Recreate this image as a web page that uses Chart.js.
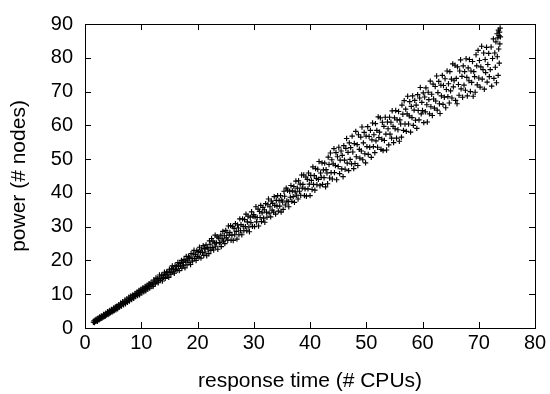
<!DOCTYPE html>
<html>
<head>
<meta charset="utf-8">
<script src="https://cdn.jsdelivr.net/npm/chart.js@4.4.0/dist/chart.umd.min.js"></script>
<style>
html,body{margin:0;padding:0;background:#fff;}
#wrap{width:550px;height:394px;}
</style>
</head>
<body>
<div id="wrap"><canvas id="c" width="550" height="394"></canvas></div>
<script>
// ---- data (response time, power) ----
const xA = [1.5,1.6,1.7,1.8,1.9,2.0,2.1,2.2,2.3,2.4,2.5,2.6,2.7,2.8,2.9,3.0,3.1,3.2,3.3,3.4,3.5,3.6,3.7,3.8,3.9,4.0,4.1,4.2,4.3,4.4,4.5,4.6,4.7,4.8,4.9,5.0,5.1,5.2,5.3,5.4,5.5,5.6,5.7,5.8,5.9];
const yA = [1.7,2.1,1.6,2.4,2.0,2.6,2.2,2.0,2.9,2.5,2.4,3.3,2.7,3.0,3.6,2.9,3.5,3.2,4.0,3.4,3.9,3.5,4.4,3.8,4.2,4.8,4.0,4.6,4.3,5.2,4.5,4.9,5.5,4.7,5.3,5.0,5.9,5.2,5.7,6.2,5.4,6.0,6.5,5.7,6.3];
const xB = [6.0,6.1,6.25,6.35,6.5,6.6,6.7,6.85,6.95,7.1,7.2,7.3,7.45,7.55,7.7,7.8,7.9,8.05,8.15,8.3,8.4,8.5,8.65,8.75,8.9,9.0,9.1,9.25,9.35,9.5,9.6,9.7,9.85,9.95,10.1,10.2,10.3,10.45,10.55,10.7,10.8,10.9,11.05,11.15,11.3,11.4,11.5,11.65,11.75,11.9];
const yB = [6.9,6.1,6.6,7.4,6.5,7.2,7.8,6.9,7.5,8.3,7.2,7.9,8.6,7.6,8.2,9.1,8.0,8.7,9.5,8.4,9.1,9.8,8.8,9.6,10.2,9.3,9.9,10.7,9.6,10.4,11.1,9.8,10.8,11.5,10.4,11.2,11.9,10.7,11.6,12.3,11.0,12.0,12.7,11.5,12.4,13.1,11.8,12.8,13.5,12.3];
const xC = [12.00,12.14,12.23,12.39,12.50,12.61,12.77,12.86,13.02,13.13,13.24,13.38,13.49,13.63,13.75,13.88,13.97,14.12,14.26,14.35,14.51,14.62,14.74,14.89,15.01,15.12,15.27,15.36,15.52,15.64,15.73,15.88,16.01,16.13,16.24,16.37,16.51,16.62,16.76,16.87,16.99,17.14,17.23,17.38,17.49,17.61,17.77,17.88];
const yC = [13.0,12.4,14.2,13.9,13.1,14.8,13.6,14.6,13.4,14.5,15.7,14.1,14.7,15.7,13.9,15.6,15.0,16.5,14.7,15.8,16.6,15.4,16.5,15.0,17.4,16.4,15.9,17.5,18.4,16.6,17.5,16.2,18.5,17.3,18.3,17.1,19.4,18.2,17.0,19.1,18.3,20.0,17.7,19.4,18.6,20.3,17.8,19.8];
const xD = [18.00,18.14,18.23,18.39,18.50,18.61,18.77,18.86,19.02,19.13,19.24,19.38,19.49,19.63,19.75,19.88,19.97,20.12,20.26,20.35,20.51,20.62,20.74,20.89,21.01,21.12,21.27,21.36,21.52,21.64,21.73,21.88,22.01,22.13,22.24,22.37,22.51,22.62,22.76,22.87,22.99,23.14,23.23,23.38,23.49,23.61,23.77,23.88];
const yD = [21.2,18.7,20.1,21.1,19.4,20.8,18.8,22.0,20.6,19.8,21.9,23.0,20.6,21.8,20.0,22.9,21.2,22.6,21.0,23.9,22.4,20.7,23.4,22.3,24.4,21.5,23.5,22.5,24.6,21.4,23.8,23.4,22.0,25.8,24.8,23.0,26.5,23.8,25.7,23.1,25.2,27.5,24.2,25.2,27.0,23.3,26.6,25.3];
const xE = [24.00,24.14,24.23,24.39,24.50,24.61,24.77,24.86,25.02,25.13,25.24,25.38,25.49,25.63,25.75,25.88,25.97,26.12,26.26,26.35,26.51,26.62,26.74,26.89,27.01,27.12,27.27,27.36,27.52,27.64,27.73,27.88,28.01,28.13,28.24,28.37,28.51,28.62,28.76,28.87,28.99,29.14,29.23,29.38,29.49,29.61,29.77,29.88];
const yE = [25.2,27.5,24.1,26.4,28.6,25.7,27.3,25.0,28.9,26.7,28.2,26.0,30.2,27.5,28.3,30.3,26.0,27.5,30.0,25.9,29.5,27.6,30.9,28.6,26.3,30.5,29.6,27.6,32.3,28.8,30.6,27.6,32.3,30.1,28.8,32.1,30.0,33.7,28.8,31.4,33.1,29.9,28.5,32.8,31.2,34.4,30.1,33.1];
const xF = [30.00,30.14,30.23,30.39,30.50,30.61,30.77,30.86,31.02,31.13,31.24,31.38,31.49,31.63,31.75,31.88,31.97,32.12,32.26,32.35,32.51,32.62,32.74,32.89,33.01,33.12,33.27,33.36,33.52,33.64,33.73,33.88,34.01,34.13,34.24,34.37,34.51,34.62,34.76,34.87,34.99,35.14,35.23,35.38,35.49,35.61,35.77,35.88];
const yF = [33.6,30.0,32.9,35.9,31.4,32.7,35.2,30.2,34.5,32.7,36.3,31.5,34.1,35.7,32.5,35.0,31.3,36.8,34.3,32.8,36.5,38.2,34.0,35.9,32.9,37.6,34.9,36.9,34.3,38.9,36.3,33.7,37.8,36.1,39.2,34.6,37.7,36.1,39.2,34.3,37.9,37.3,35.1,40.5,39.0,36.4,41.4,37.6];
const xG = [36.00,36.14,36.23,36.39,36.50,36.61,36.77,36.86,37.02,37.13,37.24,37.38,37.49,37.63,37.75,37.88,37.97,38.12,38.26,38.35,38.51,38.62,38.74,38.89,39.01,39.12,39.27,39.36,39.52,39.64,39.73,39.88,40.01,40.13,40.24,40.37,40.51,40.62,40.76,40.87,40.99,41.14,41.23,41.38,41.49,41.61,41.77,41.88];
const yG = [40.8,37.4,35.9,40.5,38.7,42.2,37.5,40.6,38.9,41.9,37.2,40.3,43.5,39.3,41.4,38.2,43.6,40.5,42.6,39.3,45.3,41.4,42.5,45.3,39.2,41.2,44.7,39.0,44.0,41.2,45.9,42.6,39.2,45.2,43.7,41.0,47.7,42.5,45.1,40.8,47.2,44.3,42.4,47.0,44.0,49.3,42.1,45.9];
const xH = [42.00,42.14,42.23,42.39,42.50,42.61,42.77,42.86,43.02,43.13,43.24,43.38,43.49,43.63,43.75,43.88,43.97,44.12,44.26,44.35,44.51,44.62,44.74,44.89,45.01,45.12,45.27,45.36,45.52,45.64,45.73,45.88,46.01,46.13,46.24,46.37,46.51,46.62,46.76,46.87,46.99,47.14,47.23,47.38,47.49,47.61,47.77,47.88];
const yH = [44.6,48.9,42.5,46.8,44.5,48.8,41.8,46.9,45.9,42.7,50.6,48.4,44.4,51.8,46.0,49.8,44.1,48.6,53.1,46.0,48.1,51.9,43.9,50.7,47.8,53.5,45.7,49.7,52.4,47.1,51.1,44.8,54.0,49.7,47.0,53.2,56.1,48.8,52.0,46.6,54.8,49.9,53.4,48.6,56.8,52.1,47.2,54.6];
const xI = [48.00,48.14,48.23,48.39,48.50,48.61,48.77,48.86,49.02,49.13,49.24,49.38,49.49,49.63,49.75,49.88,49.97,50.12,50.26,50.35,50.51,50.62,50.74,50.89,51.01,51.12,51.27,51.36,51.52,51.64,51.73,51.88,52.01,52.13,52.24,52.37,52.51,52.62,52.76,52.87,52.99,53.14,53.23,53.38,53.49,53.61,53.77,53.88];
const yI = [48.7,58.2,50.7,54.3,48.1,57.2,52.9,50.3,56.5,52.4,59.5,49.8,54.8,57.9,51.6,48.9,56.8,53.7,59.6,51.4,56.7,53.5,58.5,50.5,55.7,60.7,53.7,57.2,51.9,60.5,55.4,58.5,53.5,62.5,56.4,58.0,62.2,52.9,55.9,60.9,52.5,59.7,55.5,62.4,57.4,52.7,61.0,59.0];
const xJ = [54.00,54.14,54.23,54.39,54.50,54.61,54.77,54.86,55.02,55.13,55.24,55.38,55.49,55.63,55.75,55.88,55.97,56.12,56.26,56.35,56.51,56.62,56.74,56.89,57.01,57.12,57.27,57.36,57.52,57.64,57.73,57.88,58.01,58.13,58.24,58.37,58.51,58.62,58.76,58.87,58.99,59.14,59.23,59.38,59.49,59.61,59.77,59.88];
const yJ = [54.2,62.4,57.4,60.9,56.2,64.3,59.7,54.9,62.2,59.0,64.4,56.2,61.6,58.7,64.1,55.3,61.6,60.4,56.5,66.0,63.3,58.5,67.3,60.4,64.8,58.2,63.4,68.6,60.4,62.8,67.0,58.0,65.6,62.3,68.7,60.0,64.5,67.4,61.5,66.0,59.1,69.1,64.4,61.6,68.1,71.2,63.4,66.8];
const xK = [60.00,60.14,60.23,60.39,60.50,60.61,60.77,60.86,61.02,61.13,61.24,61.38,61.49,61.63,61.75,61.88,61.97,62.12,62.26,62.35,62.51,62.62,62.74,62.89,63.01,63.12,63.27,63.36,63.52,63.64,63.73,63.88,64.01,64.13,64.24,64.37,64.51,64.62,64.76,64.87,64.99,65.14,65.23,65.38,65.49,65.61,65.77,65.88];
const yK = [64.4,69.6,60.8,68.4,64.0,71.1,66.1,61.0,69.8,67.6,63.4,73.1,65.5,69.2,62.9,72.2,67.8,65.1,71.5,67.2,74.6,64.5,69.7,73.0,66.4,63.5,71.9,68.7,74.8,66.2,71.8,68.3,73.8,65.2,70.6,76.1,68.5,72.3,66.6,75.9,70.2,73.7,68.1,78.2,71.4,73.2,77.8,67.4];
const xL = [66.00,66.14,66.23,66.39,66.50,66.61,66.77,66.86,67.02,67.13,67.24,67.38,67.49,67.63,67.75,67.88,67.97,68.12,68.26,68.35,68.51,68.62,68.74,68.89,69.01,69.12,69.27,69.36,69.52,69.64,69.73,69.88,70.01,70.13,70.24,70.37,70.51,70.62,70.76,70.87,70.99,71.14,71.23,71.38,71.49,71.61,71.77,71.88];
const yL = [73.9,66.4,77.3,72.1,68.9,76.1,79.4,70.8,74.5,68.3,77.6,71.9,75.9,70.4,79.7,74.2,68.7,77.0,73.2,79.5,70.0,76.1,72.7,78.9,68.6,75.9,74.4,69.8,80.9,77.6,72.0,82.2,74.0,79.2,71.3,77.3,83.4,73.7,76.5,81.4,70.7,79.5,75.6,83.1,72.8,78.0,81.3,74.4];
const xM = [72.05,72.2,72.3,72.45,72.6,72.7,72.85,72.95,73.05,73.15,73.25,73.3,73.4,73.45,73.5,73.55,73.6,73.65,73.7,73.75,73.8,73.85];
const yM = [76.5,83.2,71.6,79.8,85.6,73.9,81.4,77.2,84.7,72.6,87.1,80.3,85.9,74.8,88.2,82.6,86.6,78.4,87.6,84.1,88.8,86.2];

const xTicks = [0,10,20,30,40,50,60,70,80];
const yTicks = [0,10,20,30,40,50,60,70,80,90];
const xTitle = 'response time (# CPUs)';
const yTitle = 'power (# nodes)';

const xs = [].concat(xA,xB,xC,xD,xE,xF,xG,xH,xI,xJ,xK,xL,xM);
const ys = [].concat(yA,yB,yC,yD,yE,yF,yG,yH,yI,yJ,yK,yL,yM);
const points = xs.map((x,i)=>({x:x, y:ys[i]}));

Chart.defaults.color = '#000';
Chart.defaults.font.family = '"Liberation Sans", Arial, Helvetica, sans-serif';

const framePlugin = {
  id:'frame',
  afterDatasetsDraw(chart){
    const {ctx, chartArea:a, scales:{x,y}} = chart;
    ctx.save();
    ctx.strokeStyle = '#000';
    ctx.lineWidth = 1;
    const L = 6;
    ctx.beginPath();
    xTicks.forEach(v=>{
      const px = Math.round(x.getPixelForValue(v))+0.5;
      ctx.moveTo(px, a.bottom); ctx.lineTo(px, a.bottom-L);
      ctx.moveTo(px, a.top); ctx.lineTo(px, a.top+L);
    });
    yTicks.forEach(v=>{
      const py = Math.round(y.getPixelForValue(v))+0.5;
      ctx.moveTo(a.left, py); ctx.lineTo(a.left+L, py);
      ctx.moveTo(a.right, py); ctx.lineTo(a.right-L, py);
    });
    ctx.stroke();
    ctx.strokeRect(Math.round(a.left)+0.5, Math.round(a.top)+0.5, Math.round(a.right-a.left), Math.round(a.bottom-a.top));
    ctx.restore();
  }
};

new Chart(document.getElementById('c'), {
  type:'scatter',
  data:{datasets:[{
    data:points,
    showLine:false,
    pointStyle:'cross',
    pointRadius:2.7,
    pointBorderWidth:1.15,
    borderColor:'#000',
    backgroundColor:'#000'
  }]},
  options:{
    responsive:false,
    animation:false,
    events:[],
    layout:{padding:{top:13,right:15,left:0,bottom:0}},
    plugins:{legend:{display:false},tooltip:{enabled:false}},
    scales:{
      x:{
        type:'linear', min:0, max:80,
        afterFit(s){ s.height = 66; },
        afterBuildTicks(s){ s.ticks = xTicks.map(v=>({value:v})); },
        grid:{display:false, drawTicks:false},
        border:{display:false},
        ticks:{padding:3, font:{size:20}, maxRotation:0, autoSkip:false},
        title:{display:true, text:xTitle, font:{size:21, lineHeight:1}, padding:{top:0,bottom:2}}
      },
      y:{
        type:'linear', min:0, max:90,
        afterFit(s){ s.width = 85; },
        afterBuildTicks(s){ s.ticks = yTicks.map(v=>({value:v})); },
        grid:{display:false, drawTicks:false},
        border:{display:false},
        ticks:{padding:12, font:{size:20}, autoSkip:false},
        title:{display:true, text:yTitle, font:{size:21, lineHeight:1}, padding:{top:9,bottom:0}}
      }
    }
  },
  plugins:[framePlugin]
});
</script>
</body>
</html>
